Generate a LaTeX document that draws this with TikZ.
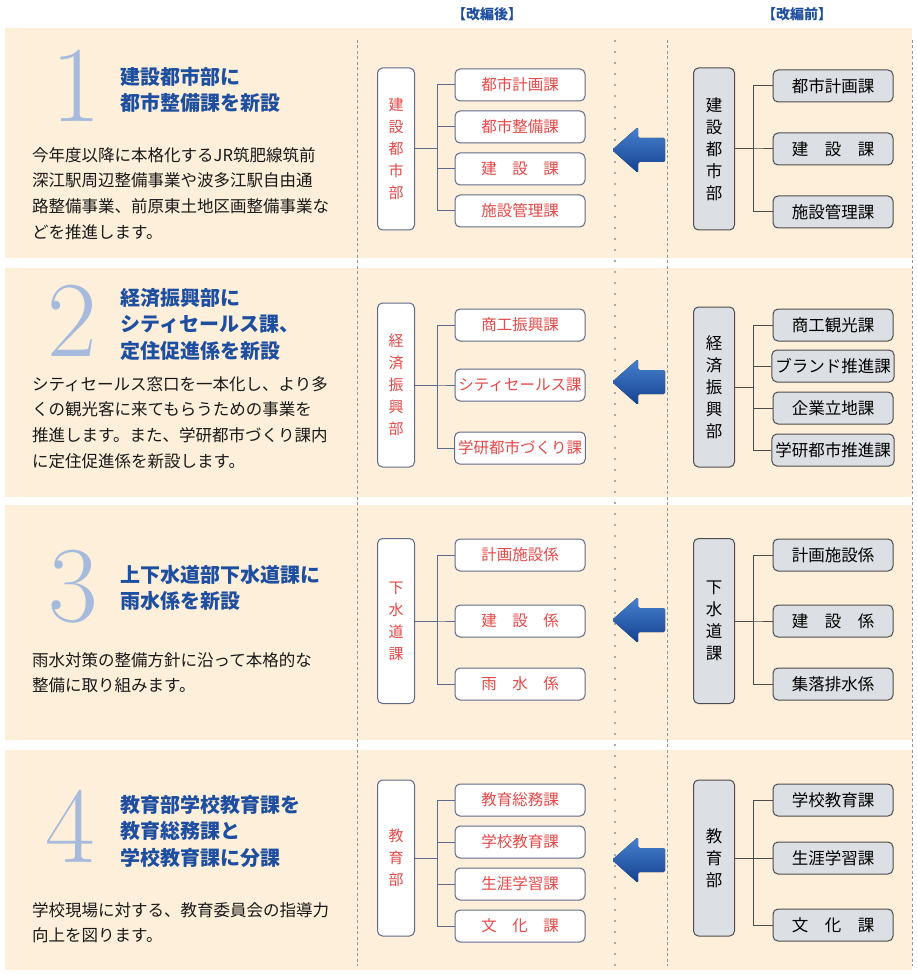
\documentclass[tikz,border=0pt]{standalone}
\usepackage{fontspec}
\usepackage{xcolor}
\newfontfamily\jp{Noto Sans CJK JP}
\usetikzlibrary{positioning}

\definecolor{bandbg}{RGB}{253,239,218}
\definecolor{titleblue}{RGB}{30,78,160}
\definecolor{numblue}{RGB}{165,186,220}
\definecolor{newred}{RGB}{232,72,72}
\definecolor{boxline}{RGB}{95,105,140}
\definecolor{oldfill}{RGB}{220,223,228}
\definecolor{sepgray}{RGB}{150,150,150}
\definecolor{arrowhi}{RGB}{70,130,205}
\definecolor{arrowlo}{RGB}{20,65,145}

% block arrow, tip at the given point
\newcommand\movearrow[1]{%
  \fill[top color=arrowhi, bottom color=arrowlo, rounded corners=1.5pt]
    (#1) -- ++(26,-23) -- ++(0,11) -- ++(27,0) -- ++(0,24)
    -- ++(-27,0) -- ++(0,11) -- cycle;}

\begin{document}
\begin{tikzpicture}[
    x=1pt, y=-1pt,
    band/.style={fill=bandbg, draw=none},
    numeral/.style={font=\fontsize{108}{108}\selectfont, text=numblue, inner sep=0},
    headline/.style={font=\jp\bfseries\fontsize{20}{26.5}\selectfont, text=titleblue, align=left, anchor=north west, inner sep=0},
    bodytext/.style={font=\jp\fontsize{16.5}{25.7}\selectfont, text=black!90, align=left, anchor=north west, inner sep=0},
    colhead/.style={font=\jp\bfseries\fontsize{14}{14}\selectfont, text=titleblue},
    newdept/.style={draw=boxline, fill=white, rounded corners=5pt, line width=1pt, minimum width=37pt, font=\jp\fontsize{15}{22}\selectfont, text=newred, align=center},
    newsec/.style={draw=boxline, fill=white, rounded corners=5pt, line width=1pt, minimum width=130pt, minimum height=32pt, font=\jp\fontsize{15.5}{15.5}\selectfont, text=newred},
    olddept/.style={draw=black!70, fill=oldfill, rounded corners=5pt, line width=1pt, minimum width=41pt, font=\jp\fontsize{16.5}{22}\selectfont, align=center},
    oldsec/.style={draw=black!70, fill=oldfill, rounded corners=5pt, line width=1pt, minimum width=120pt, minimum height=32pt, font=\jp\fontsize{16.5}{16.5}\selectfont},
    link/.style={draw=boxline, line width=1pt},
    sepline/.style={draw=sepgray, line width=0.6pt, dash pattern=on 3pt off 2.5pt},
    sepdots/.style={draw=sepgray!80, line width=2.2pt, dash pattern=on 2pt off 9pt}
]
\useasboundingbox (0,0) rectangle (917,976);

% background bands
\path[band] (5,28) rectangle (912,258);
\path[band] (5,268) rectangle (912,497);
\path[band] (5,505) rectangle (912,740);
\path[band] (5,750) rectangle (912,970);

% column separators
\draw[sepline] (357,40) -- (357,966);
\draw[sepdots] (615,40) -- (615,966);
\draw[sepline] (667,40) -- (667,966);
\draw[sepline] (912,40) -- (912,966);

\node[colhead] (hnew) at (487,14) {【改編後】};
\node[colhead] (hold) at (797,14) {【改編前】};

% ---- 1
\node[numeral] (num1) at (76,86) {1};
\node[headline] (tt1) at (120,67) {建設都市部に\\都市整備課を新設};
\node[bodytext] (tx1) at (32,147) {今年度以降に本格化するJR筑肥線筑前\\深江駅周辺整備事業や波多江駅自由通\\路整備事業、前原東土地区画整備事業な\\どを推進します。};

\node[newdept, minimum height=162pt] (n1) at (396,149) {建\\設\\都\\市\\部};
\node[newsec] (n11) at (520,85) {都市計画課};
\node[newsec] (n12) at (520,127) {都市整備課};
\node[newsec] (n13) at (520,169) {建　設　課};
\node[newsec] (n14) at (520,211) {施設管理課};
\draw[link] (n1.east) -- ++(22,0) |- (n11.west);
\draw[link] (n1.east) -- ++(22,0) |- (n12.west);
\draw[link] (n1.east) -- ++(22,0) |- (n13.west);
\draw[link] (n1.east) -- ++(22,0) |- (n14.west);

\movearrow{612,150}

\node[olddept, minimum height=162pt] (o1) at (714,149) {建\\設\\都\\市\\部};
\node[oldsec] (o11) at (833,86) {都市計画課};
\node[oldsec] (o12) at (833,149) {建　設　課};
\node[oldsec] (o13) at (833,212) {施設管理課};
\draw[link, draw=black!70] (o1.east) -- ++(18,0) |- (o11.west);
\draw[link, draw=black!70] (o1.east) -- ++(18,0) |- (o12.west);
\draw[link, draw=black!70] (o1.east) -- ++(18,0) |- (o13.west);

% ---- 2
\node[numeral] (num2) at (72,321) {2};
\node[headline] (tt2) at (120,288) {経済振興部に\\シティセールス課、\\定住促進係を新設};
\node[bodytext] (tx2) at (32,376) {シティセールス窓口を一本化し、より多\\くの観光客に来てもらうための事業を\\推進します。また、学研都市づくり課内\\に定住促進係を新設します。};

\node[newdept, minimum height=164pt] (n2) at (396,385) {経\\済\\振\\興\\部};
\node[newsec] (n21) at (520,325) {商工振興課};
\node[newsec] (n22) at (520,385) {シティセールス課};
\node[newsec] (n23) at (520,448) {学研都市づくり課};
\draw[link] (n2.east) -- ++(22,0) |- (n21.west);
\draw[link] (n2.east) -- ++(22,0) |- (n22.west);
\draw[link] (n2.east) -- ++(22,0) |- (n23.west);

\movearrow{612,382}

\node[olddept, minimum height=160pt] (o2) at (714,387) {経\\済\\振\\興\\部};
\node[oldsec] (o21) at (833,325) {商工観光課};
\node[oldsec] (o22) at (833,366) {ブランド推進課};
\node[oldsec] (o23) at (833,408) {企業立地課};
\node[oldsec] (o24) at (833,450) {学研都市推進課};
\draw[link, draw=black!70] (o2.east) -- ++(18,0) |- (o21.west);
\draw[link, draw=black!70] (o2.east) -- ++(18,0) |- (o22.west);
\draw[link, draw=black!70] (o2.east) -- ++(18,0) |- (o23.west);
\draw[link, draw=black!70] (o2.east) -- ++(18,0) |- (o24.west);

% ---- 3
\node[numeral] (num3) at (73,587) {3};
\node[headline] (tt3) at (120,565) {上下水道部下水道課に\\雨水係を新設};
\node[bodytext] (tx3) at (32,652) {雨水対策の整備方針に沿って本格的な\\整備に取り組みます。};

\node[newdept, minimum height=165pt] (n3) at (396,621) {下\\水\\道\\課};
\node[newsec] (n31) at (520,555) {計画施設係};
\node[newsec] (n32) at (520,621) {建　設　係};
\node[newsec] (n33) at (520,684) {雨　水　係};
\draw[link] (n3.east) -- ++(22,0) |- (n31.west);
\draw[link] (n3.east) -- ++(22,0) |- (n32.west);
\draw[link] (n3.east) -- ++(22,0) |- (n33.west);

\movearrow{612,620}

\node[olddept, minimum height=165pt] (o3) at (714,621) {下\\水\\道\\課};
\node[oldsec] (o31) at (833,555) {計画施設係};
\node[oldsec] (o32) at (833,621) {建　設　係};
\node[oldsec] (o33) at (833,684) {集落排水係};
\draw[link, draw=black!70] (o3.east) -- ++(18,0) |- (o31.west);
\draw[link, draw=black!70] (o3.east) -- ++(18,0) |- (o32.west);
\draw[link, draw=black!70] (o3.east) -- ++(18,0) |- (o33.west);

% ---- 4
\node[numeral] (num4) at (70,826) {4};
\node[headline] (tt4) at (120,795) {教育部学校教育課を\\教育総務課と\\学校教育課に分課};
\node[bodytext] (tx4) at (32,902) {学校現場に対する、教育委員会の指導力\\向上を図ります。};

\node[newdept, minimum height=156pt] (n4) at (396,858) {教\\育\\部};
\node[newsec] (n41) at (520,800) {教育総務課};
\node[newsec] (n42) at (520,842) {学校教育課};
\node[newsec] (n43) at (520,884) {生涯学習課};
\node[newsec] (n44) at (520,926) {文　化　課};
\draw[link] (n4.east) -- ++(22,0) |- (n41.west);
\draw[link] (n4.east) -- ++(22,0) |- (n42.west);
\draw[link] (n4.east) -- ++(22,0) |- (n43.west);
\draw[link] (n4.east) -- ++(22,0) |- (n44.west);

\movearrow{612,860}

\node[olddept, minimum height=156pt] (o4) at (714,858) {教\\育\\部};
\node[oldsec] (o41) at (833,800) {学校教育課};
\node[oldsec] (o42) at (833,858) {生涯学習課};
\node[oldsec] (o43) at (833,925) {文　化　課};
\draw[link, draw=black!70] (o4.east) -- ++(18,0) |- (o41.west);
\draw[link, draw=black!70] (o4.east) -- ++(18,0) |- (o42.west);
\draw[link, draw=black!70] (o4.east) -- ++(18,0) |- (o43.west);

\end{tikzpicture}
\end{document}
